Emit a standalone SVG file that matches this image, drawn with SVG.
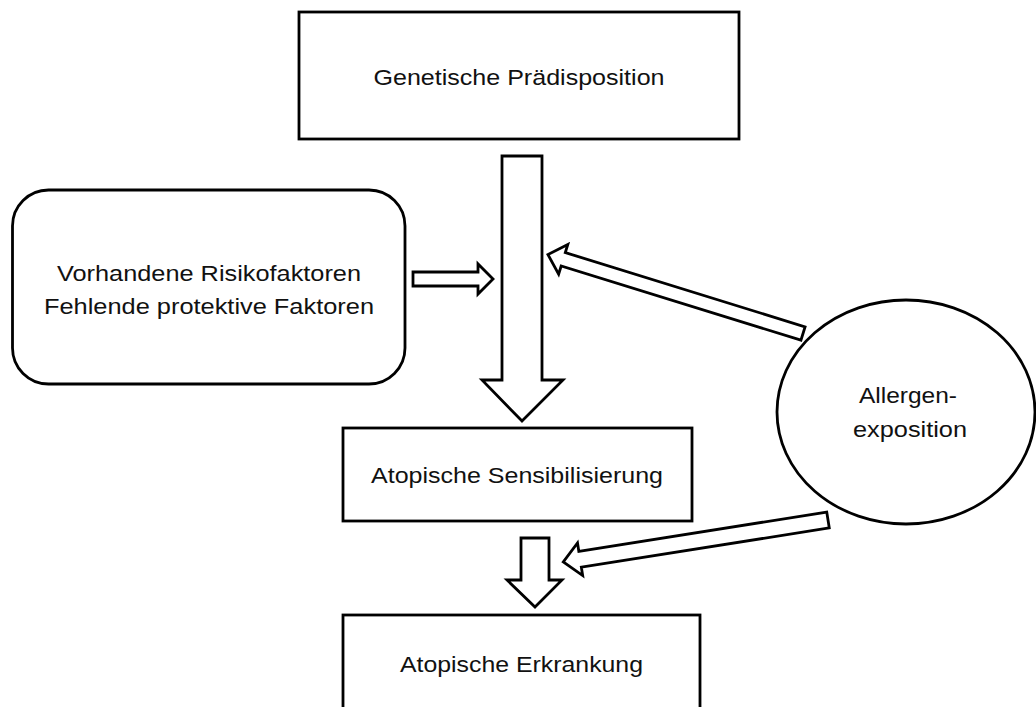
<svg xmlns="http://www.w3.org/2000/svg" width="1036" height="707" viewBox="0 0 1036 707">
<style>
.box{fill:#fff;stroke:#000;stroke-width:2.8}
.arr{fill:#fff;stroke:#000;stroke-width:2.8;stroke-linejoin:miter}
.t{font-family:"Liberation Sans",Arial,sans-serif;font-size:22px;fill:#111;text-anchor:middle}
</style>
<rect width="1036" height="707" fill="#fff"/>
<g id="connectors">
<polygon class="arr" points="413,272 478,272 478,264 493,279 478,294 478,286 413,286"/>
<polygon class="arr" points="502,156 542,156 542,380 563,380 522,421 482,380 502,380"/>
<polygon class="arr" points="521,538 549,538 549,580 562,580 535,607 507,580 521,580"/>
<polygon class="arr" transform="translate(803,333.5) rotate(197.2)" points="0,-7 251,-7 251,-15.5 267,0 251,15.5 251,7 0,7"/>
<polygon class="arr" transform="translate(828,520) rotate(171)" points="0,-8 251,-8 251,-16.5 268,0 251,16.5 251,8 0,8"/>
</g>
<g id="node-genetik">
<rect class="box" x="299" y="12" width="440" height="127"/>
<text class="t" x="519" y="85" textLength="291" lengthAdjust="spacingAndGlyphs">Genetische Prädisposition</text>
</g>
<g id="node-faktoren">
<rect class="box" x="12.5" y="190" width="392.5" height="194" rx="36" ry="36"/>
<text class="t" x="209" y="281" textLength="304" lengthAdjust="spacingAndGlyphs">Vorhandene Risikofaktoren</text>
<text class="t" x="209" y="314" textLength="330" lengthAdjust="spacingAndGlyphs">Fehlende protektive Faktoren</text>
</g>
<g id="node-allergen">
<ellipse class="box" cx="906" cy="412" rx="129" ry="112"/>
<text class="t" x="908" y="403" textLength="98" lengthAdjust="spacingAndGlyphs">Allergen-</text>
<text class="t" x="910" y="437" textLength="114" lengthAdjust="spacingAndGlyphs">exposition</text>
</g>
<g id="node-sensibilisierung">
<rect class="box" x="343" y="428" width="349" height="93"/>
<text class="t" x="517" y="483" textLength="292" lengthAdjust="spacingAndGlyphs">Atopische Sensibilisierung</text>
</g>
<g id="node-erkrankung">
<rect class="box" x="343" y="615" width="357" height="110"/>
<text class="t" x="521.5" y="672" textLength="243" lengthAdjust="spacingAndGlyphs">Atopische Erkrankung</text>
</g>
</svg>
